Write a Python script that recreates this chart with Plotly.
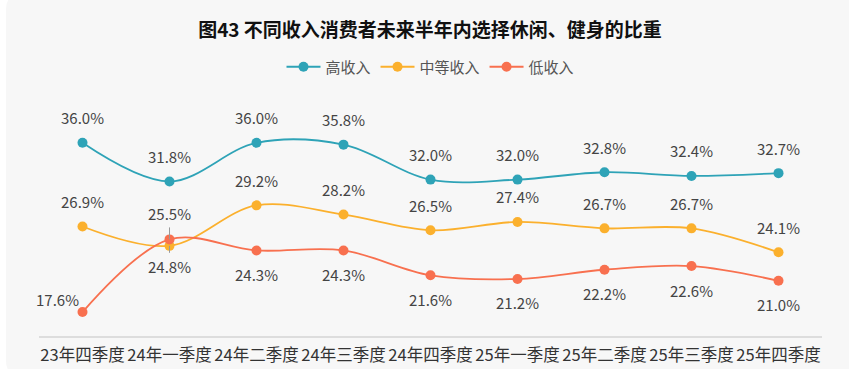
import plotly.graph_objects as go

categories = ["23年四季度", "24年一季度", "24年二季度", "24年三季度", "24年四季度",
              "25年一季度", "25年二季度", "25年三季度", "25年四季度"]
high_income = [36.0, 31.8, 36.0, 35.8, 32.0, 32.0, 32.8, 32.4, 32.7]
mid_income = [26.9, 24.8, 29.2, 28.2, 26.5, 27.4, 26.7, 26.7, 24.1]
low_income = [17.6, 25.5, 24.3, 24.3, 21.6, 21.2, 22.2, 22.6, 21.0]

series = [
    ("高收入", high_income, "#2ea3b7"),
    ("中等收入", mid_income, "#fbb02d"),
    ("低收入", low_income, "#f8704f"),
]

FONT = "Noto Sans CJK SC, Noto Sans, sans-serif"

fig = go.Figure()
for name, vals, color in series:
    fig.add_trace(go.Scatter(
        x=categories, y=vals, name=name, mode="lines+markers",
        line=dict(color=color, width=1.8, shape="spline", smoothing=1.0),
        marker=dict(color=color, size=10),
        cliponaxis=False,
    ))

# label offsets (pixels) per series, with per-point overrides
default_shift = {"高收入": (0, 25), "中等收入": (0, 25), "低收入": (0, -24)}
overrides = {("中等收入", 1): (0, -21), ("低收入", 0): (-25, 13), ("低收入", 1): (0, 26)}
arrows = {("中等收入", 1), ("低收入", 1)}

annotations = []
for name, vals, color in series:
    for i, v in enumerate(vals):
        dx, dy = overrides.get((name, i), default_shift[name])
        txt = f"{v:.1f}%"
        if (name, i) in arrows:
            annotations.append(dict(
                x=categories[i], y=v, text=txt, showarrow=True,
                ax=dx, ay=-dy, arrowhead=0, arrowwidth=1, arrowcolor="#999999",
                standoff=0, startstandoff=2,
                font=dict(family=FONT, size=15, color="#444444"),
            ))
        else:
            annotations.append(dict(
                x=categories[i], y=v, text=txt, showarrow=False,
                xshift=dx, yshift=dy,
                font=dict(family=FONT, size=15, color="#444444"),
            ))

fig.update_layout(
    width=849, height=369,
    margin=dict(l=39, r=27, t=106, b=33, autoexpand=False),
    paper_bgcolor="#ffffff",
    plot_bgcolor="rgba(0,0,0,0)",
    font=dict(family=FONT, color="#333333"),
    title=dict(text="<b>图43 不同收入消费者未来半年内选择休闲、健身的比重</b>",
               x=(430 / 849), xanchor="center", y=1 - 30 / 369, yanchor="middle",
               yref="container",
               font=dict(family=FONT, size=19, color="#111111")),
    legend=dict(orientation="h", x=0.5, xanchor="center", y=1 - 67 / 369,
                yref="container",
                yanchor="middle", font=dict(family=FONT, size=15, color="#555555"),
                bgcolor="rgba(0,0,0,0)", itemwidth=34),
    xaxis=dict(showline=True, linecolor="#dddddd", linewidth=1.5, showgrid=False,
               range=[-0.5, len(categories) - 0.5], ticklabelstandoff=3,
               ticks="", tickfont=dict(family=FONT, size=16.5, color="#333333"),
               zeroline=False, fixedrange=True, automargin=False),
    yaxis=dict(range=[15, 40], showgrid=False, showticklabels=False, zeroline=False,
               showline=False, fixedrange=True, automargin=False),
    annotations=annotations,
    showlegend=True,
)

# rounded light-grey background panel
L, PW, T, PH = 39, 783, 106, 230
def px(x):
    return (x - L) / PW
def py(y):
    return (T + PH - y) / PH
r = 14
x0, x1, y0, y1 = 6, 855, -5, 375
path = (f"M {px(x0)},{py(y0 + r)} Q {px(x0)},{py(y0)} {px(x0 + r)},{py(y0)} "
        f"L {px(x1)},{py(y0)} L {px(x1)},{py(y1)} L {px(x0 + r)},{py(y1)} "
        f"Q {px(x0)},{py(y1)} {px(x0)},{py(y1 - r)} Z")
fig.add_shape(type="path", path=path, xref="paper", yref="paper",
              fillcolor="#f7f7f7", line=dict(width=0), layer="below")

fig.write_html("out.html", config={"displayModeBar": False},
               post_script="document.body.style.margin='0px';")
